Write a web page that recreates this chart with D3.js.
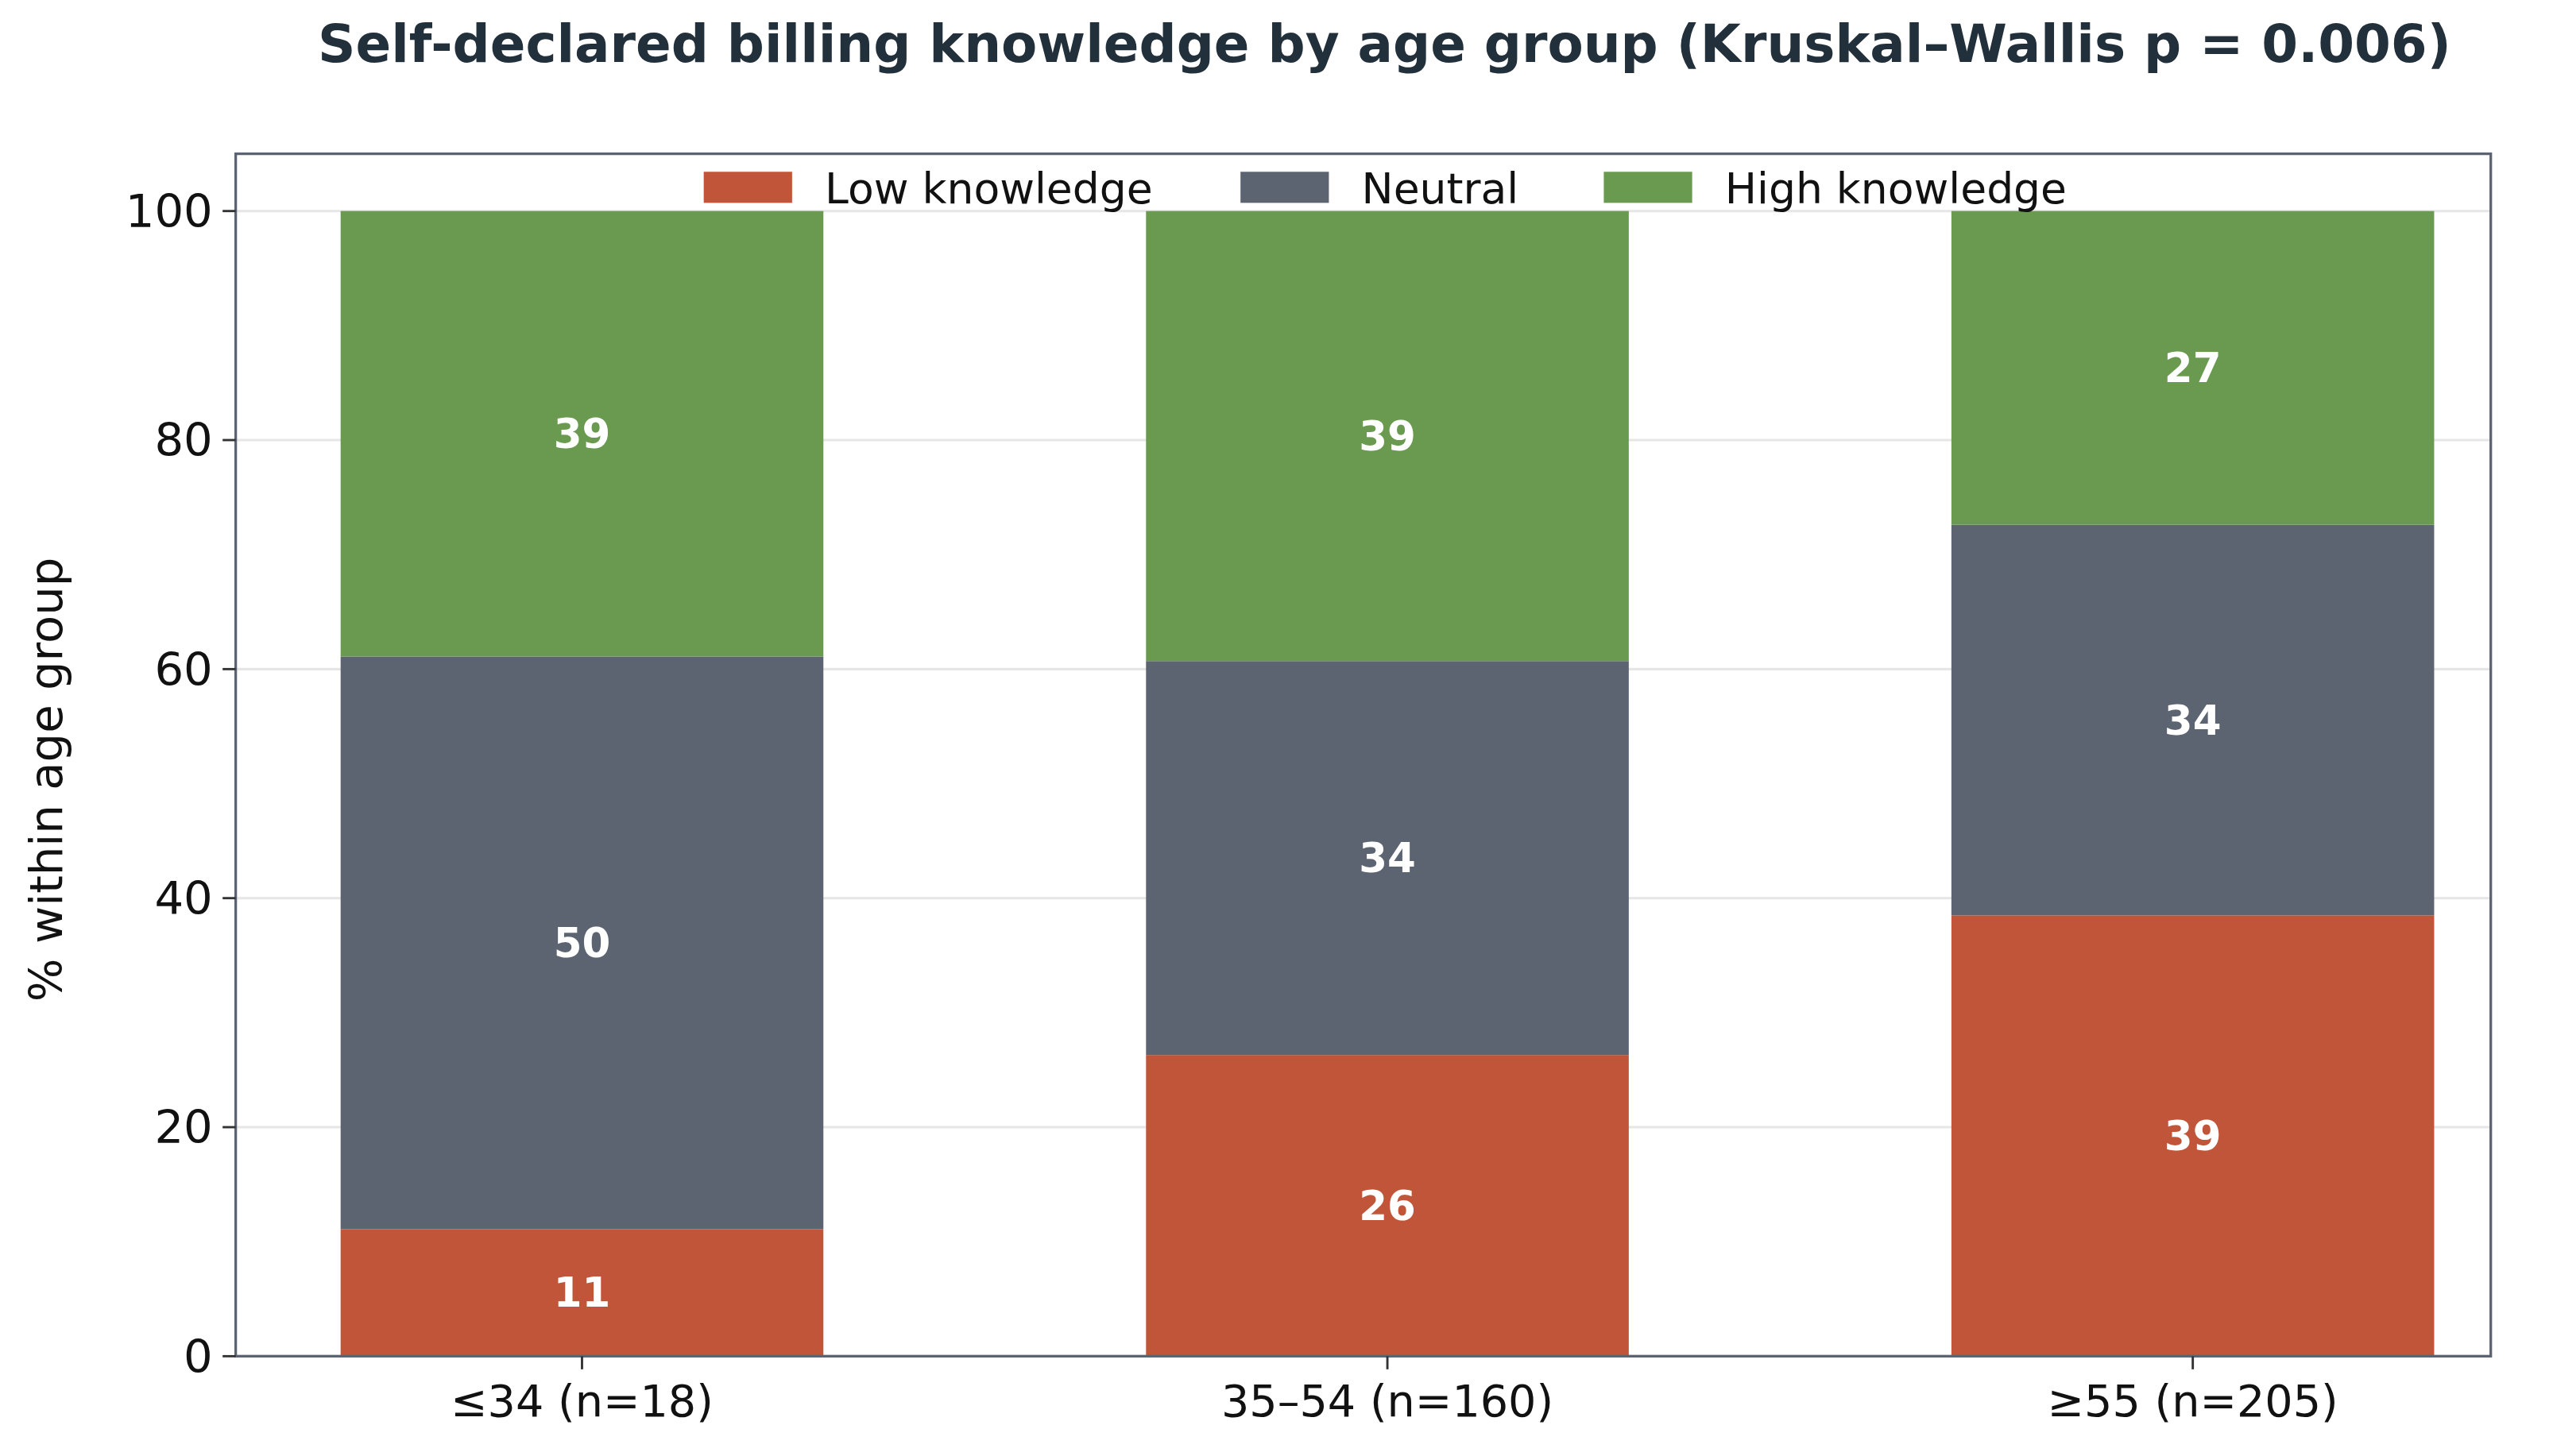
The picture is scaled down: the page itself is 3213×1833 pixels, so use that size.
<!DOCTYPE html>
<html><head><meta charset="utf-8">
<script src="https://cdn.jsdelivr.net/npm/d3@7"></script>
<style>body{margin:0;background:#fff;font-family:"DejaVu Sans",sans-serif}</style>
</head><body>
<script>
var groups = ["\u226434 (n=18)", "35\u201354 (n=160)", "\u226555 (n=205)"];
var series = ["Low knowledge", "Neutral", "High knowledge"];
var low = [11.1, 26.3, 38.5];
var neutral = [50.0, 34.4, 34.1];
var high = [38.9, 39.3, 27.4];
var yTicks = [0, 20, 40, 60, 80, 100];
var colors = ["#c0553a", "#5b6470", "#6a9a50"];

var svg = d3.select("body").append("svg")
    .attr("width", 3213).attr("height", 1833)
    .attr("viewBox", "0 0 1560 890");

var L = 144, R = 1522, T = 94, B = 829;
var x = d3.scaleLinear().domain([-0.43, 2.37]).range([L, R]);
var y = d3.scaleLinear().domain([0, 105]).range([B, T]);
var bw = 295;

// grid
svg.selectAll(".grid").data(yTicks).enter().append("line")
    .attr("x1", L).attr("x2", R)
    .attr("y1", function (d) { return y(d); }).attr("y2", function (d) { return y(d); })
    .attr("stroke", "#e6e6e6").attr("stroke-width", 1.5);

var rows = [low, neutral, high];
groups.forEach(function (g, i) {
    var base = 0;
    rows.forEach(function (r, k) {
        var v = r[i];
        svg.append("rect")
            .attr("x", x(i) - bw / 2).attr("width", bw)
            .attr("y", y(base + v)).attr("height", y(base) - y(base + v))
            .attr("fill", colors[k]);
        svg.append("text")
            .attr("x", x(i)).attr("y", y(base + v / 2))
            .attr("dy", "0.35em").attr("text-anchor", "middle")
            .attr("fill", "#fff").attr("font-weight", "bold").attr("font-size", 25)
            .text(Math.round(v));
        base += v;
    });
});

// frame
svg.append("rect").attr("x", L).attr("y", T).attr("width", R - L).attr("height", B - T)
    .attr("fill", "none").attr("stroke", "#5b6470").attr("stroke-width", 1.6);

// y axis
yTicks.forEach(function (t) {
    svg.append("line").attr("x1", L - 8).attr("x2", L).attr("y1", y(t)).attr("y2", y(t))
        .attr("stroke", "#333").attr("stroke-width", 1.4);
    svg.append("text").attr("x", L - 14).attr("y", y(t)).attr("dy", "0.35em")
        .attr("text-anchor", "end").attr("font-size", 28).attr("fill", "#111").text(t);
});
// x axis
groups.forEach(function (g, i) {
    svg.append("line").attr("x1", x(i)).attr("x2", x(i)).attr("y1", B).attr("y2", B + 8)
        .attr("stroke", "#333").attr("stroke-width", 1.4);
    svg.append("text").attr("x", x(i)).attr("y", B + 34).attr("dy", "0.1em")
        .attr("text-anchor", "middle").attr("font-size", 27).attr("fill", "#111").text(g);
});

svg.append("text").attr("transform", "translate(38," + ((T + B) / 2 + 15) + ") rotate(-90)")
    .attr("text-anchor", "middle").attr("font-size", 28).attr("fill", "#111")
    .text("% within age group");

svg.append("text").attr("x", 846).attr("y", 38).attr("text-anchor", "middle")
    .attr("font-size", 32).attr("font-weight", "bold").attr("fill", "#22303c")
    .text("Self-declared billing knowledge by age group (Kruskal\u2013Wallis p = 0.006)");

// legend
var lx = [430, 758, 980];
series.forEach(function (s, k) {
    svg.append("rect").attr("x", lx[k]).attr("y", 105).attr("width", 54).attr("height", 19)
        .attr("fill", colors[k]);
    svg.append("text").attr("x", lx[k] + 74).attr("y", 115).attr("dy", "0.35em")
        .attr("font-size", 26).attr("fill", "#111").text(s);
});
</script>
</body></html>
